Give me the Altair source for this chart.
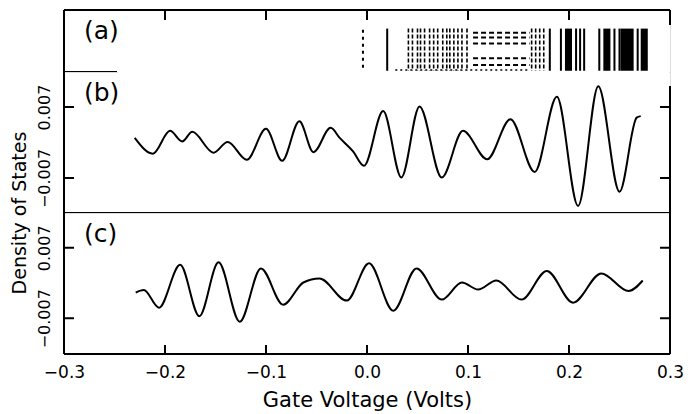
import altair as alt
import pandas as pd

# ---------------- data ----------------
x_tick_vals = [-0.2, -0.1, 0.0, 0.1, 0.2]
x_label_vals = [-0.3, -0.2, -0.1, 0.0, 0.1, 0.2, 0.3]
y_tick_vals = [-0.007, 0.007]

# panel (b) trace
b_volts = [-0.230, -0.212, -0.195, -0.183, -0.173, -0.152, -0.138, -0.119, -0.100,
           -0.084, -0.067, -0.053, -0.036, -0.027, -0.014, -0.003, 0.016, 0.034,
           0.052, 0.074, 0.095, 0.119, 0.142, 0.166, 0.188, 0.209, 0.229, 0.250,
           0.267, 0.271]
b_dos = [0.0009, -0.0022, 0.0023, 0.0002, 0.0021, -0.0020, 0.0001, -0.0034, 0.0027,
         -0.0036, 0.0042, -0.0019, 0.0029, 0.0009, -0.0017, -0.0046, 0.0062, -0.0069,
         0.0071, -0.0069, 0.0023, -0.0033, 0.0046, -0.0058, 0.0090, -0.0125, 0.0111,
         -0.0097, 0.0049, 0.0052]

# panel (c) trace
c_volts = [-0.229, -0.221, -0.206, -0.185, -0.166, -0.147, -0.126, -0.105, -0.083,
           -0.063, -0.047, -0.020, 0.002, 0.026, 0.049, 0.074, 0.094, 0.110, 0.128,
           0.153, 0.178, 0.204, 0.232, 0.259, 0.273]
c_dos = [-0.0019, -0.0014, -0.0049, 0.0036, -0.0066, 0.0041, -0.0077, 0.0029, -0.0043,
         0.0001, 0.0009, -0.0035, 0.0039, -0.0055, 0.0029, -0.0033, 0.0001, -0.0013,
         0.0005, -0.0033, 0.0024, -0.0039, 0.0019, -0.0016, 0.0005]

# panel (a) raster ("barcode")
a_solid_lo = [0.019, 0.180, 0.191, 0.196, 0.206, 0.210, 0.214, 0.229, 0.234, 0.244,
              0.249, 0.251, 0.267, 0.271]
a_solid_hi = [0.021, 0.182, 0.193, 0.203, 0.208, 0.212, 0.216, 0.231, 0.241, 0.246,
              0.251, 0.264, 0.269, 0.278]
a_dashed_v = [0.041, 0.045, 0.050, 0.053, 0.057, 0.062, 0.066, 0.070, 0.075, 0.079,
              0.082, 0.086, 0.090, 0.094, 0.099, 0.163, 0.167, 0.171, 0.175]
a_row_levels = [0.635, 0.556, 0.46, 0.222, 0.111]
a_row_start = 0.105
a_row_end = 0.161

# ---------------- chart ----------------
W, HA, HB, HC = 606, 62, 141, 141
FONT = "DejaVu Sans"
xs = alt.Scale(domain=[-0.3, 0.3], nice=False, zero=False)
one = pd.DataFrame({"k": [0]})


def seg(x0, x1, y0, y1, w=2, color="black"):
    return alt.Chart(one).mark_rule(color=color, strokeWidth=w).encode(
        x=alt.value(x0), x2=alt.value(x1), y=alt.value(y0), y2=alt.value(y1))


def label(txt, size=25):
    return alt.Chart(one).mark_text(text=txt, fontSize=size, font=FONT, align="left",
                                    baseline="middle", color="black").encode(
        x=alt.value(20), y=alt.value(21))


xt = pd.DataFrame({"v": x_tick_vals})
yt = pd.DataFrame({"v": y_tick_vals})

# panel (a)
ya = alt.Scale(domain=[0, 1], nice=False)
solid = alt.Chart(pd.DataFrame({"lo": a_solid_lo, "hi": a_solid_hi})).mark_rect(
    color="black").encode(
    x=alt.X("lo:Q", scale=xs, axis=None), x2="hi:Q",
    y=alt.datum(0.70, scale=ya, axis=None), y2=alt.datum(0.016))
dashv = alt.Chart(pd.DataFrame({"v": a_dashed_v})).mark_rule(
    color="black", strokeWidth=1.6, strokeDash=[4, 2]).encode(
    x=alt.X("v:Q", scale=xs, axis=None),
    y=alt.datum(0.70, scale=ya, axis=None), y2=alt.datum(0.016))
rows = alt.Chart(pd.DataFrame({"lvl": a_row_levels})).mark_rule(
    color="black", strokeWidth=2, strokeDash=[5, 3]).encode(
    x=alt.datum(a_row_start, scale=xs, axis=None), x2=alt.datum(a_row_end),
    y=alt.Y("lvl:Q", scale=ya, axis=None))
dotrow = alt.Chart(one).mark_rule(color="black", strokeWidth=2, strokeDash=[2, 3]).encode(
    x=alt.datum(0.028, scale=xs, axis=None), x2=alt.datum(0.161),
    y=alt.datum(0.03, scale=ya, axis=None))
dotcol = alt.Chart(one).mark_rule(color="black", strokeWidth=2, strokeDash=[3, 4]).encode(
    x=alt.datum(-0.004, scale=xs, axis=None),
    y=alt.datum(0.68, scale=ya, axis=None), y2=alt.datum(0.05))
top_ticks = alt.Chart(xt).mark_rule(color="black", strokeWidth=2).encode(
    x=alt.X("v:Q", scale=xs, axis=None), y=alt.value(0), y2=alt.value(10))

panel_a = alt.layer(
    solid, dashv, rows, dotrow, dotcol, top_ticks,
    seg(0, 0, 0, HA), seg(0, W, 0, 0), seg(W, W, 0, 15), seg(0, 53, HA, HA),
    label("(a)"),
).properties(width=W, height=HA)


def trace_panel(xv, yv, dom, name, h, bottom=False):
    ysc = alt.Scale(domain=dom, nice=False, zero=False)
    df = pd.DataFrame({"Gate Voltage": xv, "DOS": yv})
    yaxis = alt.Axis(values=y_tick_vals, format=".3f", labelAngle=270, labelAlign="center",
                     labelBaseline="bottom", labelPadding=12, labelFontSize=16,
                     labelFont=FONT, ticks=False, domain=False, grid=False, title=None,
                     labelColor="black")
    if bottom:
        xaxis = alt.Axis(values=x_label_vals, format=".1f", labelFlush=False, ticks=False,
                         domain=False, grid=False, labelPadding=10, labelFontSize=17,
                         labelFont=FONT, labelColor="black",
                         title="Gate Voltage (Volts)", titleFontSize=21,
                         titleFont=FONT, titleFontWeight="normal", titlePadding=9,
                         titleColor="black")
    else:
        xaxis = None
    line = alt.Chart(df).mark_line(color="black", strokeWidth=2,
                                   interpolate="monotone").encode(
        x=alt.X("Gate Voltage:Q", scale=xs, axis=xaxis),
        y=alt.Y("DOS:Q", scale=ysc, axis=yaxis))
    lt = alt.Chart(yt).mark_rule(color="black", strokeWidth=2).encode(
        y=alt.Y("v:Q", scale=ysc, axis=yaxis), x=alt.value(0), x2=alt.value(10))
    rt = alt.Chart(yt).mark_rule(color="black", strokeWidth=2).encode(
        y=alt.Y("v:Q", scale=ysc, axis=yaxis), x=alt.value(W - 10), x2=alt.value(W))
    layers = [line, lt, rt, seg(0, 0, 0, h), seg(0, W, h, h), label(name)]
    if bottom:
        layers.append(seg(W, W, 0, h))
        layers.append(alt.Chart(xt).mark_rule(color="black", strokeWidth=2).encode(
            x=alt.X("v:Q", scale=xs, axis=xaxis), y=alt.value(h - 9), y2=alt.value(h)))
        layers.append(alt.Chart(one).mark_text(
            text="Density of States", angle=270, fontSize=19, font=FONT,
            align="center", baseline="middle", color="black").encode(
            x=alt.value(-44), y=alt.value(0)))
    else:
        layers.append(seg(W, W, 14, h))
        layers.append(seg(54, W - 1, 0, 0, w=2.5, color="white"))
    return alt.layer(*layers).properties(width=W, height=h)


panel_b = trace_panel(b_volts, b_dos, [-0.0139, 0.0139], "(b)", HB)
panel_c = trace_panel(c_volts, c_dos, [-0.0141, 0.0139], "(c)", HC, bottom=True)

chart = alt.vconcat(panel_a, panel_b, panel_c, spacing=0, bounds="flush").properties(
    padding={"left": 2, "top": 0, "right": 0, "bottom": 0}
).configure_view(strokeWidth=0, stroke="transparent").configure_axis(
    grid=False).configure(background="white")

chart.save("out.html", embed_options={"renderer": "svg", "actions": False})
